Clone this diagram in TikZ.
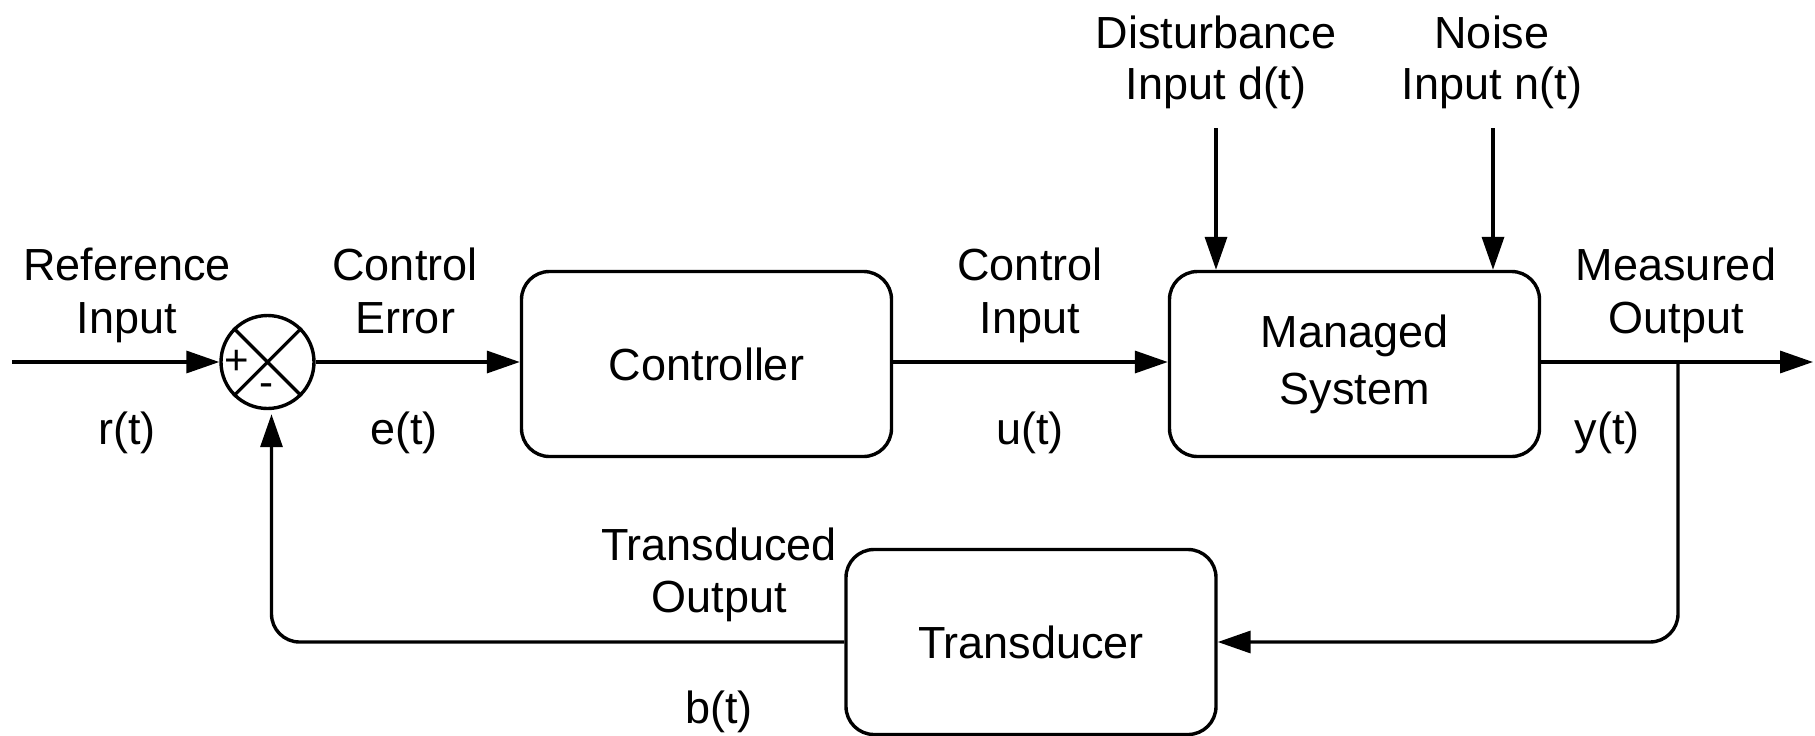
\documentclass[tikz,border=0pt]{standalone}
\usepackage{fontspec}
\setmainfont{Liberation Sans}
\usetikzlibrary{arrows.meta,calc}
\begin{document}
\begin{tikzpicture}[x=0.5pt,y=-0.5pt,
  line width=1.7pt,
  arr/.style={-{Triangle[length=16.5pt,width=11pt]}},
  blk/.style={draw,rounded corners=14pt,minimum width=185pt,minimum height=92.5pt,inner sep=0pt,
    font=\fontsize{22.5}{28.5}\selectfont,align=center},
  lbl/.style={anchor=base,inner sep=0pt,font=\fontsize{22.5}{26}\selectfont},
  sgn/.style={inner sep=0pt,font=\fontsize{21}{21}\selectfont}]
\useasboundingbox (0,0) rectangle (1815,735);

% blocks
\node[draw,circle,minimum size=46.5pt,inner sep=0pt] (sum) at (267.5,362) {};
\draw[line width=1.6pt] (sum.45) -- (sum.225) (sum.135) -- (sum.315);
\node[sgn] (plus) at (237,362) {+};
\node[sgn] (minus) at (266,390) {-};

\node[blk] (ctrl) at (706.5,364) {Controller};
\node[blk] (sys) at (1354.5,364) {Managed\\System};
\node[blk] (trans) at (1031,642) {Transducer};

% coordinates
\coordinate (in) at (12,362);
\coordinate (out) at (1813,362);
\coordinate (br) at (1678,362);
\coordinate (dtop) at (1216,128);
\coordinate (ntop) at (1493,128);

% connectors
\draw[arr] (in) -- (sum.west);
\draw[arr] (sum.east) -- (sum.east -| ctrl.west);
\draw[arr] (ctrl.east |- sum.east) -- (sum.east -| sys.west);
\draw[arr] (sys.east |- sum.east) -- (out);
\draw[arr,rounded corners=14pt] (br) |- (trans.east);
\draw[arr,rounded corners=14pt,shorten >=2pt] (trans.west) -| ([xshift=2pt]sum.south);
\draw[arr] (dtop) -- (dtop |- sys.north);
\draw[arr] (ntop) -- (ntop |- sys.north);

% labels
\node[lbl] (dist1) at (1216,48) {Disturbance};
\node[lbl] (dist2) at (1216,99) {Input d(t)};
\node[lbl] (nois1) at (1492,48) {Noise};
\node[lbl] (nois2) at (1492,99) {Input n(t)};

\node[lbl] (ref1) at (127,280) {Reference};
\node[lbl] (ref2) at (127,333) {Input};
\node[lbl] (ref3) at (127,444) {r(t)};

\node[lbl] (err1) at (405,280) {Control};
\node[lbl] (err2) at (405,333) {Error};
\node[lbl] (err3) at (404,444) {e(t)};

\node[lbl] (ci1) at (1030,280) {Control};
\node[lbl] (ci2) at (1030,333) {Input};
\node[lbl] (ci3) at (1030,444) {u(t)};

\node[lbl] (mo1) at (1676,280) {Measured};
\node[lbl] (mo2) at (1676,333) {Output};
\node[lbl] (mo3) at (1607,444) {y(t)};

\node[lbl] (to1) at (719,560) {Transduced};
\node[lbl] (to2) at (719,612) {Output};
\node[lbl] (to3) at (719,723) {b(t)};
\end{tikzpicture}
\end{document}
